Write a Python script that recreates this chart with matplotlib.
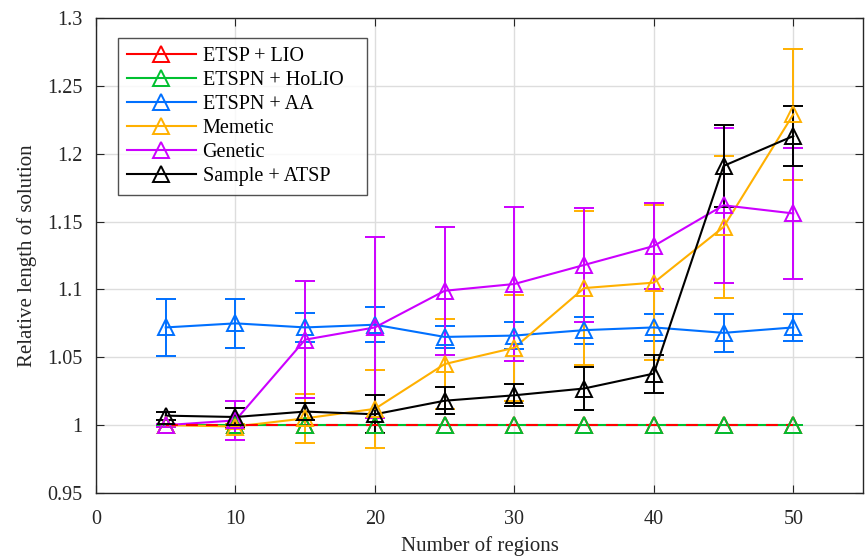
import numpy as np
import matplotlib
matplotlib.use("Agg")
import matplotlib.pyplot as plt
from matplotlib.lines import Line2D

plt.rcParams['font.family'] = ['Liberation Serif', 'DejaVu Serif']

# data
regions = [5, 10, 15, 20, 25, 30, 35, 40, 45, 50]

lio_mean = [1.0, 1.0, 1.0, 1.0, 1.0, 1.0, 1.0, 1.0, 1.0, 1.0]
lio_err = [0, 0, 0, 0, 0, 0, 0, 0, 0, 0]

holio_mean = [1.0, 1.0, 1.0, 1.0, 1.0, 1.0, 1.0, 1.0, 1.0, 1.0]
holio_err = [0, 0, 0, 0, 0, 0, 0, 0, 0, 0]

aa_mean = [1.072, 1.075, 1.072, 1.074, 1.065, 1.066, 1.070, 1.072, 1.068, 1.072]
aa_err = [0.021, 0.018, 0.011, 0.013, 0.008, 0.010, 0.010, 0.010, 0.014, 0.010]

memetic_mean = [1.0, 0.999, 1.005, 1.012, 1.045, 1.057, 1.101, 1.105, 1.146, 1.229]
memetic_err = [0.001, 0.002, 0.018, 0.029, 0.033, 0.039, 0.057, 0.057, 0.052, 0.048]

genetic_mean = [1.0, 1.0035, 1.063, 1.072, 1.099, 1.104, 1.118, 1.132, 1.162, 1.156]
genetic_err = [0.001, 0.0145, 0.043, 0.067, 0.047, 0.057, 0.042, 0.032, 0.057, 0.048]

atsp_mean = [1.007, 1.006, 1.010, 1.008, 1.018, 1.022, 1.027, 1.038, 1.191, 1.213]
atsp_err = [0.003, 0.007, 0.0065, 0.014, 0.010, 0.008, 0.016, 0.014, 0.030, 0.022]

# name, mean, err, colour, linestyle on the plot, zorder
series = [
    ("ETSP + LIO", lio_mean, lio_err, "#FF0000", (0, (5.7, 3.9)), 4),
    ("ETSPN + HoLIO   ", holio_mean, holio_err, "#00C030", "-", 3),
    ("ETSPN + AA", aa_mean, aa_err, "#0070FF", "-", 3),
    ("Memetic", memetic_mean, memetic_err, "#FFB000", "-", 3),
    ("Genetic", genetic_mean, genetic_err, "#CC00FF", "-", 3),
    ("Sample + ATSP", atsp_mean, atsp_err, "#000000", "-", 3),
]

fig = plt.figure(figsize=(8.65, 5.6), dpi=100)
ax = fig.add_axes([96 / 865, 67 / 560, 767 / 865, 475 / 560])

handles = []
for name, m, e, c, ls, z in series:
    ax.errorbar(regions, m, yerr=e, color=c, linestyle='none', capsize=7,
                elinewidth=1.4, capthick=1.4, zorder=2)
    ax.plot(regions, m, color=c, linestyle=ls, linewidth=1.5, zorder=z)
    ax.plot(regions, m, color=c, linestyle='none', marker='^', markersize=11,
            markerfacecolor='none', markeredgewidth=1.4, zorder=5)
    handles.append(Line2D([], [], color=c, linewidth=1.5, marker='^', markersize=11,
                          markerfacecolor='none', markeredgewidth=1.4, label=name))

ax.set_xlim(0, 55)
ax.set_ylim(0.95, 1.3)
ax.set_xticks([0, 10, 20, 30, 40, 50])
ax.set_yticks([0.95, 1.0, 1.05, 1.1, 1.15, 1.2, 1.25, 1.3])
ax.set_yticklabels(["0.95", "1", "1.05", "1.1", "1.15", "1.2", "1.25", "1.3"])
ax.tick_params(direction='in', top=True, right=True, labelsize=14.5, length=6,
               color='#262626', labelcolor='#262626')
ax.tick_params(axis='x', pad=12)
ax.tick_params(axis='y', pad=10)
ax.grid(True, color='#DDDDDD', linewidth=1.0)
ax.set_axisbelow(True)
for s in ax.spines.values():
    s.set_color('#262626')
    s.set_linewidth(1.0)

ax.set_xlabel("Number of regions", fontsize=15, color='#262626', labelpad=5)
ax.set_ylabel("Relative length of solution", fontsize=15, color='#262626', labelpad=7)

leg = ax.legend(handles=handles, loc='upper left', bbox_to_anchor=(0.0287, 0.958),
                fontsize=14.5, handlelength=3.4, frameon=True, fancybox=False,
                edgecolor='#262626', borderpad=0.45, labelspacing=0.24,
                handletextpad=0.35, borderaxespad=0)
leg.get_frame().set_linewidth(1.0)

fig.savefig("out.png", dpi=100)
